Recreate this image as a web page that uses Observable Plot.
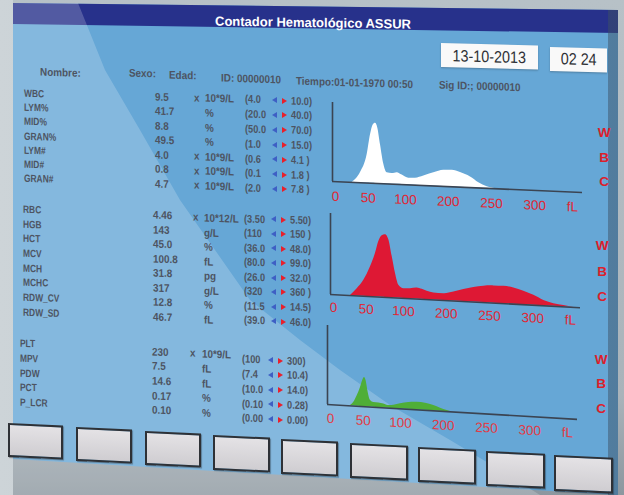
<!DOCTYPE html>
<html>
<head>
<meta charset="utf-8">
<script src="https://cdn.jsdelivr.net/npm/d3@7"></script>
<script src="https://cdn.jsdelivr.net/npm/@observablehq/plot@0.6"></script>
<style>
html,body{margin:0;padding:0}
body{width:624px;height:495px;overflow:hidden;position:relative;
 background:linear-gradient(180deg,#b7c1c7 0%,#a9b3ba 80%,#8c979f 100%);
 font-family:"Liberation Sans",Arial,sans-serif;}
.layer{position:absolute;left:0;top:0;width:624px;height:495px}
#leftframe{background:linear-gradient(90deg,#cdd4d8,#b3bdc3);clip-path:polygon(0 0,13px 0,13px 495px,0 495px)}
#screen{background:#66a7d6;clip-path:polygon(13px 3px,618px 10px,618px 495px,13px 459px)}
#bar{background:#27318b;clip-path:polygon(13px 3px,618px 10px,618px 33px,13px 24px)}
#glare{background:rgba(255,255,255,0.2);clip-path:polygon(13px 3px,78px 3px,105px 70px,140px 130px,180px 200px,215px 250px,250px 300px,300px 340px,340px 370px,390px 405px,450px 440px,500px 470px,540px 495px,13px 495px)}
#edge{background:linear-gradient(90deg,rgba(30,40,60,0.75) 0,rgba(30,40,60,0.25) 3px,rgba(30,40,60,0) 8px);clip-path:polygon(13px 3px,30px 3px,30px 470px,13px 459px)}
#rightedge{background:linear-gradient(90deg,rgba(60,80,100,0) 0,rgba(60,80,100,0.5) 100%);clip-path:polygon(608px 10px,618px 10px,618px 495px,608px 495px)}
.t{position:absolute;white-space:nowrap;line-height:1;transform:translateY(-50%) skewY(1.8deg) scaleX(0.9);transform-origin:0 50%;color:#4d5462;font-size:11px;font-weight:bold;font-family:"Liberation Sans",Arial,sans-serif}
.tri{position:absolute;width:0;height:0;border-top:3.5px solid transparent;border-bottom:3.5px solid transparent;transform:translateY(-50%)}
.btn{position:absolute;box-sizing:border-box;border:2px solid #2e3136;background:linear-gradient(180deg,#e4e2e5,#cfcdd1);transform:skewY(2.6deg);transform-origin:0 0;box-shadow:1px 1px 1px rgba(0,0,0,0.3)}
.box{position:absolute;background:#f9f9f9;box-shadow:0 1px 2px rgba(0,0,0,0.25);transform:skewY(1.5deg);transform-origin:0 0;display:flex;align-items:center;justify-content:center;color:#2f3136;font-size:16.5px;font-family:"Liberation Sans",Arial,sans-serif}
.box span{display:inline-block;transform:scaleX(0.87)}
.wbc{position:absolute;color:#dc1f2c;font:bold 13.5px "Liberation Sans",Arial,sans-serif;transform:translate(-50%,-50%)}
</style>
</head>
<body>
<div id="leftframe" class="layer"></div>
<div id="screen" class="layer"></div>
<div id="bar" class="layer"></div>
<div id="glare" class="layer"></div>
<div id="edge" class="layer"></div>
<div id="rightedge" class="layer"></div>
<div id="content" class="layer"></div>
<script>
// ---------- data ----------
const title = "Contador Hematológico ASSUR";
const dateText = "13-10-2013";
const timeText = "02 24";
const headerTexts = ["Nombre:", "Sexo:", "Edad:", "ID: 00000010", "Tiempo:01-01-1970  00:50", "Sig ID:; 00000010"];

const wbcLabels = ["WBC","LYM%","MID%","GRAN%","LYM#","MID#","GRAN#"];
const wbcValues = ["9.5","41.7","8.8","49.5","4.0","0.8","4.7"];
const wbcMult   = ["x","","","","x","x","x"];
const wbcUnits  = ["10*9/L","%","%","%","10*9/L","10*9/L","10*9/L"];
const wbcLow    = ["(4.0","(20.0","(50.0","(1.0","(0.6","(0.1","(2.0"];
const wbcHigh   = ["10.0)","40.0)","70.0)","15.0)","4.1  )","1.8  )","7.8  )"];

const rbcLabels = ["RBC","HGB","HCT","MCV","MCH","MCHC","RDW_CV","RDW_SD"];
const rbcValues = ["4.46","143","45.0","100.8","31.8","317","12.8","46.7"];
const rbcMult   = ["x","","","","","","",""];
const rbcUnits  = ["10*12/L","g/L","%","fL","pg","g/L","%","fL"];
const rbcLow    = ["(3.50","(110","(36.0","(80.0","(26.0","(320","(11.5","(39.0"];
const rbcHigh   = ["5.50)","150 )","48.0)","99.0)","32.0)","360 )","14.5)","46.0)"];

const pltLabels = ["PLT","MPV","PDW","PCT","P_LCR"];
const pltValues = ["230","7.5","14.6","0.17","0.10"];
const pltMult   = ["x","","","",""];
const pltUnits  = ["10*9/L","fL","fL","%","%"];
const pltLow    = ["(100","(7.4","(10.0","(0.10","(0.00"];
const pltHigh   = ["300)","10.4)","14.0)","0.28)","0.00)"];

const tickLabels = ["0","50","100","200","250","300","fL"];
const tickSlots  = [0.05, 0.87, 1.8, 2.87, 3.95, 5.03, 5.97];
const sideLetters = ["W","B","C"];

const wbcSlots  = [0.467,0.675,0.842,0.925,0.992,1.05,1.108,1.175,1.258,1.342,1.467,1.592,1.717,1.883,2.05,2.258,2.508,2.758,2.967,3.175,3.425,3.633,3.842,4.092];
const wbcCounts = [0,12.8,36,61.3,73.8,76.1,70,49.1,24.6,14.1,13.4,14.8,12.1,8.4,8.8,12.1,16.6,20.4,20.9,18.4,13.4,6.6,2.1,0];

const rbcSlots  = [0.475,0.642,0.808,0.975,1.1,1.183,1.267,1.35,1.433,1.517,1.6,1.683,1.808,1.975,2.142,2.267,2.392,2.558,2.808,3.058,3.308,3.558,3.808,4.058,4.308,4.558,4.808,5.058,5.308,5.558,5.808,6.058];
const rbcCounts = [0,8.9,19.8,36.9,53.8,68.6,75.9,77.4,71.3,50.9,30.1,15.9,12,12.4,13.8,12.4,10.3,8.6,8.4,11.1,14.8,17.9,20.3,21.3,21.5,20.1,16.6,12.3,6.6,3.3,1.8,0];

const pltSlots  = [0.533,0.633,0.717,0.8,0.858,0.9,0.942,0.992,1.05,1.133,1.258,1.383,1.508,1.633,1.8,2.008,2.217,2.425,2.633,2.8,2.967,3.092];
const pltCounts = [0,4.8,13.4,24.1,33.4,36.9,32.8,18.4,8.2,5.9,5.9,5,3.3,4.1,6.3,8.5,9.5,8.9,6.6,3.8,1.4,0];

// ---------- layout ----------
const content = document.getElementById("content");
function put(txt, x, y, style) {
  const d = document.createElement("div");
  d.className = "t";
  d.textContent = txt;
  d.style.left = x + "px";
  d.style.top = y + "px";
  if (style) Object.assign(d.style, style);
  content.appendChild(d);
  return d;
}
function tri(x, y, color, dir) {
  const d = document.createElement("div");
  d.className = "tri";
  d.style.left = x + "px";
  d.style.top = y + "px";
  if (dir === "left") d.style.borderRight = "5.5px solid " + color;
  else d.style.borderLeft = "5.5px solid " + color;
  content.appendChild(d);
}

// title
put(title, 215, 20.5, {color:"#ffffff", fontSize:"13px", transform:"translateY(-50%) skewY(0.9deg)"});

// date/time boxes
function box(txt, x, y, w, h) {
  const d = document.createElement("div");
  d.className = "box";
  d.style.left = x + "px"; d.style.top = y + "px";
  d.style.width = w + "px"; d.style.height = h + "px";
  const s = document.createElement("span");
  s.textContent = txt;
  d.appendChild(s);
  content.appendChild(d);
}
box(dateText, 441, 43, 97, 24);
box(timeText, 550, 46.5, 57, 23.5);

// header row
const headerPos = [[40,71.7],[129,73.3],[169,75],[221,78.3],[296,80.7],[439,85]];
headerTexts.forEach((t,i)=>put(t, headerPos[i][0], headerPos[i][1]));

// table blocks
const narrow = "translateY(-50%) skewY(1.8deg) scaleX(0.84)";
function block(b) {
  b.labels.forEach((t,i)=>put(t, b.lx, b.ly + i*b.ldy, {fontSize:"10.5px", transform:"translateY(-50%) skewY(1.8deg) scaleX(0.8)"}));
  b.values.forEach((t,i)=>put(t, b.vx, b.vy + i*b.vdy));
  b.mult.forEach((t,i)=>{ if (t) put(t, b.mx, b.uy + i*b.udy - 0.6); });
  b.units.forEach((t,i)=>put(t, b.ux, b.uy + i*b.udy));
  b.low.forEach((t,i)=>put(t, b.rx, b.ry + i*b.rdy, {transform: narrow}));
  b.low.forEach((t,i)=>{
    const y = b.ry + i*b.rdy + 0.8;
    tri(b.ax, y, "#3e5fc4", "left");
    tri(b.ax + 10, y + 0.4, "#e8202c", "right");
  });
  b.high.forEach((t,i)=>put(t, b.ax + 19, b.ry + i*b.rdy + 1.2, {transform: narrow}));
}
block({labels:wbcLabels, values:wbcValues, mult:wbcMult, units:wbcUnits, low:wbcLow, high:wbcHigh,
  lx:24, ly:92.7, ldy:14.27, vx:155, vy:96.7, vdy:14.55, mx:194, ux:205, uy:98.3, udy:14.6,
  rx:245, ry:99.4, rdy:14.8, ax:272});
block({labels:rbcLabels, values:rbcValues, mult:rbcMult, units:rbcUnits, low:rbcLow, high:rbcHigh,
  lx:23, ly:209, ldy:14.67, vx:153, vy:215, vdy:14.53, mx:193, ux:204, uy:218, udy:14.55,
  rx:244, ry:218.5, rdy:14.55, ax:271});
block({labels:pltLabels, values:pltValues, mult:pltMult, units:pltUnits, low:pltLow, high:pltHigh,
  lx:20, ly:343.3, ldy:14.6, vx:152, vy:351.7, vdy:14.6, mx:190, ux:202, uy:354, udy:14.8,
  rx:242, ry:359.3, rdy:14.75, ax:268});

// histograms
function histogram(cfg) {
  const mL = 10, mR = 6, mT = 6, mB = 26, span = 6.25, ppu = 40;
  const W = mL + span*ppu + mR;
  const H = mT + cfg.plotH + mB;
  const data = cfg.slots.map((s,i)=>({s, v: cfg.counts[i]}));
  const ticks = tickSlots.map((s,i)=>({s, t: tickLabels[i], y: 0}));
  const svg = Plot.plot({
    width: W, height: H,
    marginLeft: mL, marginRight: mR, marginTop: mT, marginBottom: mB,
    x: {domain: [-0.025, span - 0.025], range: [mL, mL + span*ppu], axis: null},
    y: {domain: [0, 100], range: [mT + cfg.plotH, mT], axis: null},
    style: {background: "transparent", overflow: "visible", fontFamily: "'Liberation Sans', Arial, sans-serif"},
    marks: [
      Plot.areaY(data, {x: "s", y: "v", fill: cfg.fill, curve: "monotone-x"}),
      Plot.ruleY([0], {stroke: "#3b4452", strokeWidth: 1.6}),
      Plot.ruleX([-0.025], {y1: 0, y2: 100, stroke: "#3b4452", strokeWidth: 1.6}),
      Plot.text(ticks, {x: "s", y: "y", text: "t", dy: cfg.dy, fill: cfg.tickColor, fontSize: 13.5})
    ]
  });
  svg.style.position = "absolute";
  svg.style.left = (cfg.axisX - mL) + "px";
  svg.style.top = (cfg.top - mT) + "px";
  svg.style.transformOrigin = `${mL}px ${mT + cfg.plotH}px`;
  svg.style.transform = `skewY(${cfg.angle}deg)`;
  content.appendChild(svg);
  sideLetters.forEach((l,i)=>{
    const d = document.createElement("div");
    d.className = "wbc";
    d.textContent = l;
    d.style.left = cfg.wx + "px";
    d.style.top = cfg.wy[i] + "px";
    content.appendChild(d);
  });
}
histogram({slots: wbcSlots, counts: wbcCounts, fill: "#ffffff", tickColor: "#e02634",
  axisX: 332, top: 102, plotH: 79, angle: 2.52, dy: 15, wx: 604, wy: [132,157,181]});
histogram({slots: rbcSlots, counts: rbcCounts, fill: "#de1834", tickColor: "#e02634",
  axisX: 330, top: 213, plotH: 81, angle: 3.03, dy: 13, wx: 602, wy: [245,271,296]});
histogram({slots: pltSlots, counts: pltCounts, fill: "#4fae37", tickColor: "#e23a44",
  axisX: 327, top: 325, plotH: 79, angle: 3.4, dy: 14, wx: 601, wy: [359,383,408]});

// soft keys
for (let i = 0; i < 9; i++) {
  const d = document.createElement("div");
  d.className = "btn";
  d.style.left = (8 + i*68.3) + "px";
  d.style.top = (423 + i*4) + "px";
  d.style.width = (55 + i*0.5) + "px";
  d.style.height = (34 + i*0.2) + "px";
  content.appendChild(d);
}
</script>
</body>
</html>
